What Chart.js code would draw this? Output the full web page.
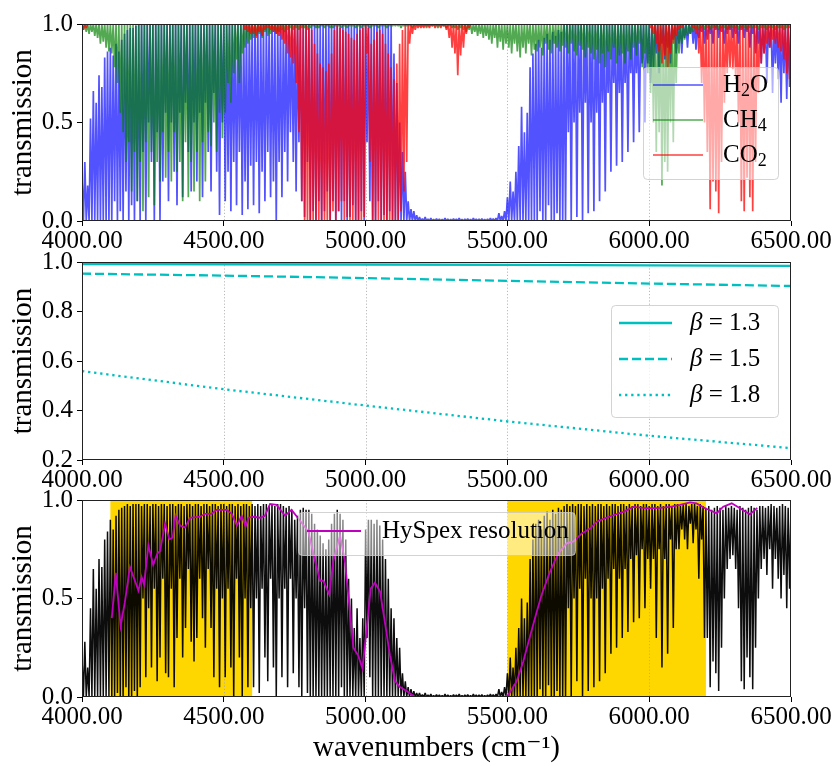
<!DOCTYPE html>
<html>
<head>
<meta charset="utf-8">
<title>Atmospheric transmission 4000-6500 cm-1</title>
<script src="https://cdn.jsdelivr.net/npm/chart.js@4.4.3/dist/chart.umd.min.js"></script>
<style>
  html, body { margin: 0; padding: 0; background: #fff; }
  #figure { position: relative; width: 833px; height: 766px; }
  #figure canvas { position: absolute; left: 0; top: 0; }
</style>
</head>
<body>
<div id="figure">
  <canvas id="gasChart" width="833" height="766"></canvas>
  <canvas id="betaChart" width="833" height="766"></canvas>
  <canvas id="totalChart" width="833" height="766"></canvas>
</div>
<script>
const FONT = '"Liberation Serif", "DejaVu Serif", serif';

// spectra are sampled every 10 cm-1; each sample keeps the max / min transmission in its bin
const wavenumbers = Array.from({ length: 251 }, (_, i) => 4000 + 10 * i);
const xTicks = [4000, 4500, 5000, 5500, 6000, 6500];
const transTicks = [0, 0.5, 1];
const betaTicks = [0.2, 0.4, 0.6, 0.8, 1];
const hyspexBands = [[4100, 4600], [5500, 6200]];

const h2oLo = [
  0, 0, 0, 0, 0, 0, 0, 0, 0, 0,                    // 4000
  0, .1, 0, .05, 0, .15, 0, .08, 0, .1,            // 4100
  0, .35, 0, .5, .3, 0, .45, 0, .2, .55,           // 4200
  .1, .5, .25, .08, .55, .12, .6, .35, .15, .5,    // 4300
  .2, .55, .12, .6, .35, .15, .65, .25, .03, .5,   // 4400
  .1, .25, .05, .3, .08, .35, .03, .2, .06, .28,   // 4500
  .08, .3, .04, .25, .1, .35, .12, .2, 0, .3,      // 4600
  .12, .35, .2, .45, .3, .15, .4, .1, .02, .3,     // 4700
  0, .05, 0, .1, 0, .05, .15, 0, .1, 0,            // 4800
  .05, 0, .1, 0, .02, .08, 0, 0, .05, 0,           // 4900
  .4, .1, 0, 0, .1, 0, .03, 0, .05, 0,             // 5000
  0, 0, 0, 0, 0, 0, 0, 0, 0, 0,                    // 5100
  0, 0, 0, 0, 0, 0, 0, 0, 0, 0,                    // 5200
  0, 0, 0, 0, 0, 0, 0, 0, 0, 0,                    // 5300
  0, 0, 0, 0, 0, 0, 0, 0, 0, 0,                    // 5400
  0, 0, 0, 0, 0, 0, 0, 0, 0, 0,                    // 5500
  0, .05, 0, 0, .08, 0, 0, .04, 0, 0,              // 5600
  0, .45, 0, .5, .02, .55, 0, .6, .04, .5,         // 5700
  .05, .55, .1, .6, .15, .65, .25, .7, .28, .65,   // 5800
  .3, .7, .35, .75, .4, .75, .45, .8, .5, .8,      // 5900
  .7, .78, .85, .75, .9, .82, .88, .8, .92, .85,   // 6000
  .9, .85, .93, .88, .95, .9, .87, .93, .96, .9,   // 6100
  .92, .95, .9, .97, .93, .96, .9, .95, .97, .93,  // 6200
  .95, .9, .97, .93, .96, .88, .95, .85, .9, .8,   // 6300
  .85, .7, .88, .65, .8, .72, .6, .75, .62, .68,   // 6400
  .7
];
const h2oHi = [
  .22, .3, .18, .52, .66, .6, .74, .68, .83, .86,
  .88, .84, .9, .86, .92, .95, .97, .98, .98, .99,
  1, 1, 1, 1, 1, 1, 1, 1, 1, 1,
  1, 1, 1, 1, 1, 1, 1, 1, 1, 1,
  1, 1, 1, 1, 1, 1, 1, 1, 1, 1,
  1, 1, 1, 1, 1, 1, 1, 1, 1, 1,
  1, 1, 1, 1, 1, 1, 1, 1, 1, 1,
  1, 1, 1, 1, 1, 1, 1, 1, 1, 1,
  1, 1, 1, 1, 1, 1, 1, 1, 1, 1,
  1, 1, 1, 1, 1, 1, 1, 1, 1, 1,
  1, 1, 1, 1, 1, 1, 1, 1, 1, 1,
  .85, .7, .5, .35, .25, .1, .06, .05, .03, .02,
  .012, .02, .01, .015, .008, .012, .01, .008, .015, .01,
  .008, .012, .01, .015, .008, .01, .012, .008, .015, .01,
  .01, .012, .008, .01, .015, .012, .015, .04, .025, .05,
  .12, .2, .15, .25, .38, .58, .45, .55, .78, .85,
  .9, .92, .88, .93, .95, .92, .96, .94, .97, .96,
  1, 1, 1, 1, 1, 1, 1, 1, 1, 1,
  1, 1, 1, 1, 1, 1, 1, 1, 1, 1,
  1, 1, 1, 1, 1, 1, 1, 1, 1, 1,
  1, 1, 1, 1, 1, 1, 1, 1, 1, 1,
  1, 1, 1, 1, 1, 1, 1, 1, 1, 1,
  1, 1, 1, 1, 1, 1, 1, 1, 1, 1,
  1, 1, 1, 1, 1, 1, 1, 1, 1, 1,
  1, 1, 1, 1, 1, 1, 1, 1, 1, 1,
  1
];

// CH4 lines always start from the continuum (1.0)
const ch4Lo = [
  .97, .96, .95, .96, .94, .93, .9, .91, .88, .86,  // 4000
  .85, .78, .7, .55, .45, .3, .4, .15, .35, .1,     // 4100
  .3, .05, .4, .12, .35, .08, .3, .2, .45, .22,     // 4200
  .35, .2, .45, .25, .3, .1, .4, .12, .3, .15,      // 4300
  .35, .1, .4, .2, .45, .38, .5, .35, .55, .42,     // 4400
  .55, .7, .6, .75, .82, .7, .85, .88, .9, .92,     // 4500
  .93, .94, .95, .93, .96, .94, .95, .96, .95, .96, // 4600
  .97, .96, .97, .98, .97, .98, .97, .98, .98, .97, // 4700
  .98, .99, .98, .98, .99, .98, .99, .98, .98, .99, // 4800
  .99, .98, .99, .98, .99, .99, .98, .99, .98, .99, // 4900
  .99, .98, .99, .99, .98, .99, .99, .98, .99, .99, // 5000
  .99, .99, .98, .99, .99, .99, .98, .99, .99, .99, // 5100
  .99, .98, .99, .99, .99, .98, .99, .99, .98, .99, // 5200
  .98, .98, .97, .98, .97, .96, .97, .95, .96, .94, // 5300
  .95, .93, .94, .92, .9, .93, .88, .91, .87, .9,   // 5400
  .88, .85, .9, .86, .83, .88, .85, .9, .84, .87,   // 5500
  .86, .88, .84, .9, .87, .85, .9, .88, .86, .89,   // 5600
  .88, .85, .9, .86, .84, .89, .87, .83, .88, .85,  // 5700
  .82, .87, .8, .85, .78, .86, .82, .88, .8, .84,   // 5800
  .85, .8, .86, .82, .88, .84, .9, .78, .85, .75,   // 5900
  .65, .5, .35, .45, .18, .3, .25, .5, .4, .7,      // 6000
  .85, .9, .92, .94, .95, .96, .97, .97, .98, .97,  // 6100
  .98, .97, .98, .98, .97, .98, .98, .97, .98, .98, // 6200
  .98, .97, .98, .98, .97, .98, .98, .98, .97, .98, // 6300
  .98, .97, .98, .98, .97, .98, .98, .97, .98, .98, // 6400
  .98
];

const co2Lo = [
  .97, .98, 1, 1, 1, 1, 1, 1, 1, 1,                 // 4000
  1, 1, 1, 1, 1, 1, 1, 1, 1, 1,                     // 4100
  1, 1, 1, 1, 1, 1, 1, 1, 1, 1,                     // 4200
  1, 1, 1, 1, 1, 1, 1, 1, 1, 1,                     // 4300
  1, 1, 1, 1, 1, 1, 1, 1, 1, 1,                     // 4400
  1, 1, 1, 1, 1, 1, 1, .97, .96, .95,               // 4500
  .95, .93, .96, .94, .97, .98, .97, .96, .95, .94, // 4600
  .92, .9, .85, .83, .8, .7, .45, .1, 0, 0,         // 4700
  0, 0, 0, 0, 0, 0, 0, 0, .05, 0,                   // 4800
  .05, .1, 0, .02, 0, 0, 0, 0, 0, .02,              // 4900
  .85, .3, 0, 0, 0, 0, 0, 0, 0, 0,                  // 5000
  0, 0, .05, .15, .3, .9, .95, .97, .98, .98,       // 5100
  .98, .99, .98, .99, .98, .99, .98, .99, .97, .93, // 5200
  .88, .85, .74, .84, .88, .95, .98, 1, 1, 1,       // 5300
  1, 1, 1, 1, 1, 1, 1, 1, 1, 1,                     // 5400
  1, 1, 1, 1, 1, 1, 1, 1, 1, 1,                     // 5500
  1, 1, 1, 1, 1, 1, 1, 1, 1, 1,                     // 5600
  1, 1, 1, 1, 1, 1, 1, 1, 1, 1,                     // 5700
  1, 1, 1, 1, 1, 1, 1, 1, 1, 1,                     // 5800
  1, 1, 1, 1, 1, 1, 1, 1, 1, 1,                     // 5900
  .98, .95, .9, .86, .8, .84, .78, .85, .9, .94,    // 6000
  .97, .98, 1, 1, 1, .98, .95, .85, .7, .5,         // 6100
  .35, .06, .2, .15, .04, .3, .6, .75, .78, .77,    // 6200
  .72, .5, .1, .05, .22, .12, .05, .3, .65, .8,     // 6300
  .85, .9, .88, .92, .9, .88, .86, .82, .75, .72,   // 6400
  .75
];
const co2Hi = [
  1, 1, 1, 1, 1, 1, 1, 1, 1, 1,
  1, 1, 1, 1, 1, 1, 1, 1, 1, 1,
  1, 1, 1, 1, 1, 1, 1, 1, 1, 1,
  1, 1, 1, 1, 1, 1, 1, 1, 1, 1,
  1, 1, 1, 1, 1, 1, 1, 1, 1, 1,
  1, 1, 1, 1, 1, 1, 1, 1, 1, 1,
  1, 1, 1, 1, 1, 1, 1, 1, 1, 1,
  1, 1, 1, 1, 1, 1, 1, 1, 1, 1,
  .98, .97, .9, .85, .8, .78, .76, .8, .85, .97,
  .99, .98, .97, .96, .95, .93, .92, .95, .97, .98,
  1, .98, .9, .92, .96, .97, .95, .9, .85, .78,
  .72, .8, .9, .97, 1, 1, 1, 1, 1, 1,
  1, 1, 1, 1, 1, 1, 1, 1, 1, 1,
  1, 1, 1, 1, 1, 1, 1, 1, 1, 1,
  1, 1, 1, 1, 1, 1, 1, 1, 1, 1,
  1, 1, 1, 1, 1, 1, 1, 1, 1, 1,
  1, 1, 1, 1, 1, 1, 1, 1, 1, 1,
  1, 1, 1, 1, 1, 1, 1, 1, 1, 1,
  1, 1, 1, 1, 1, 1, 1, 1, 1, 1,
  1, 1, 1, 1, 1, 1, 1, 1, 1, 1,
  1, 1, 1, 1, 1, 1, 1, 1, 1, 1,
  1, 1, 1, 1, 1, 1, 1, 1, 1, 1,
  1, 1, 1, 1, 1, 1, 1, 1, 1, 1,
  1, 1, 1, 1, 1, 1, 1, 1, 1, 1,
  1, 1, 1, 1, 1, 1, 1, 1, 1, 1,
  1
];

// combined transmission of all gases
const totalLo = [
  0, 0, 0, 0, 0, 0, 0, 0, 0, 0,                    // 4000
  0, 0, .02, 0, 0, .05, 0, 0, .03, 0,              // 4100
  .05, .5, .1, .45, .15, .55, .08, .2, .6, .12,    // 4200
  .1, .55, .05, .3, .6, .2, .35, .65, .28, .18,    // 4300
  .3, .6, .4, .25, .65, .35, .1, .55, .05, .5,     // 4400
  .1, .55, .15, 0, .6, .2, 0, .5, .05, .45,        // 4500
  .05, .5, .02, .55, .2, .08, .6, .15, 0, .5,      // 4600
  .1, .55, .05, .6, .12, .5, .05, 0, .45, .02,     // 4700
  0, 0, 0, 0, 0, 0, 0, 0, 0, 0,                    // 4800
  0, .05, 0, 0, 0, 0, 0, 0, 0, 0,                  // 4900
  .3, .1, 0, 0, 0, 0, 0, 0, 0, 0,                  // 5000
  0, 0, 0, 0, 0, 0, 0, 0, 0, 0,                    // 5100
  0, 0, 0, 0, 0, 0, 0, 0, 0, 0,                    // 5200
  0, 0, 0, 0, 0, 0, 0, 0, 0, 0,                    // 5300
  0, 0, 0, 0, 0, 0, 0, 0, 0, 0,                    // 5400
  0, 0, 0, 0, 0, 0, 0, 0, 0, 0,                    // 5500
  0, .04, 0, 0, .06, 0, 0, .03, 0, 0,              // 5600
  0, .45, 0, .5, .08, .55, 0, .6, .03, .5,         // 5700
  .05, .5, .08, .55, .12, .6, .22, .65, .25, .6,   // 5800
  .3, .65, .33, .7, .38, .72, .4, .75, .45, .7,    // 5900
  .55, .7, .3, .75, .15, .7, .22, .8, .35, .75,    // 6000
  .75, .85, .8, .75, .88, .78, .85, .6, .8, .3,    // 6100
  .3, .05, .18, .12, .03, .25, .5, .65, .7, .72,   // 6200
  .65, .45, .08, .04, .2, .1, .04, .25, .5, .65,   // 6300
  .7, .62, .75, .55, .7, .6, .5, .62, .45, .55,    // 6400
  .55
];
const totalHi = [
  .2, .28, .15, .45, .65, .55, .7, .66, .8, .84,
  .9, .85, .92, .95, .96, .97, .98, .97, .98, .98,
  .98, .97, .98, .98, .97, .98, .98, .97, .98, .98,
  .97, .98, .98, .97, .98, .98, .97, .98, .98, .97,
  .98, .98, .97, .98, .98, .97, .98, .98, .97, .98,
  .98, .97, .98, .98, .97, .98, .97, .98, .98, .97,
  .98, .97, .98, .97, .98, .98, .97, .98, .97, .98,
  .98, .97, .96, .97, .95, .9, .92, .95, .96, .95,
  .95, .93, .88, .85, .82, .78, .75, .8, .88, .93,
  .95, .93, .9, .8, .6, .5, .35, .45, .3, .4,
  .85, .9, .9, .88, .9, .87, .8, .7, .6, .45,
  .4, .3, .25, .12, .08, .05, .04, .03, .02, .02,
  .012, .02, .01, .015, .008, .012, .01, .008, .015, .01,
  .008, .012, .01, .015, .008, .01, .012, .008, .015, .01,
  .01, .012, .008, .01, .015, .012, .015, .04, .025, .05,
  .12, .2, .15, .25, .35, .5, .4, .48, .7, .8,
  .88, .9, .85, .92, .94, .9, .95, .93, .96, .95,
  .97, .98, .97, .98, .97, .98, .98, .97, .98, .97,
  .98, .97, .98, .98, .97, .98, .97, .98, .98, .97,
  .98, .98, .97, .98, .97, .98, .98, .97, .98, .98,
  .97, .98, .98, .97, .98, .97, .98, .98, .97, .98,
  .98, .97, .98, .98, .97, .98, .98, .97, .98, .97,
  .96, .97, .95, .96, .97, .96, .95, .97, .96, .97,
  .96, .95, .97, .96, .95, .96, .97, .96, .95, .97,
  .97, .96, .97, .98, .97, .96, .97, .98, .97, .96,
  .97
];

// spectrum degraded to the HySpex instrument resolution
const hyspexWn = [
  4105, 4119, 4136, 4151, 4169, 4199, 4210, 4219, 4234, 4251,
  4266, 4275, 4293, 4308, 4320, 4330, 4346, 4363, 4381, 4416,
  4434, 4457, 4475, 4510, 4528, 4546, 4563, 4577, 4587, 4604,
  4628, 4645, 4663, 4686, 4716, 4739, 4769, 4798, 4822, 4839,
  4851, 4872, 4886, 4910, 4927, 4945, 4957, 4974, 4989, 5004,
  5018, 5033, 5051, 5068, 5086, 5104, 5121, 5145, 5174, 5300,
  5486, 5503, 5533, 5556, 5580, 5603, 5621, 5650, 5680, 5709,
  5733, 5762, 5791, 5815, 5832, 5868, 5909, 5944, 5979, 6003,
  6038, 6073, 6109, 6144, 6167, 6197, 6220, 6238, 6261, 6291,
  6320, 6355, 6381
];
const hyspexT = [
  .40, .63, .36, .48, .66, .54, .61, .57, .77, .67,
  .73, .74, .88, .80, .81, .92, .87, .86, .91, .915,
  .93, .93, .95, .95, .93, .87, .92, .865, .91, .915,
  .91, .92, .98, .975, .92, .95, .895, .84, .69, .59,
  .59, .52, .69, .82, .69, .43, .25, .21, .145, .35,
  .55, .58, .535, .38, .21, .08, .05, .03, 0, 0,
  0, .01, .08, .18, .31, .43, .52, .635, .73, .78,
  .79, .83, .855, .89, .90, .92, .94, .965, .96, .958,
  .96, .965, .975, .988, .983, .958, .944, .932, .966, .983,
  .958, .927, .96
];

// aerosol transmission for three Angstrom exponents
const betaWn = [4000, 4500, 5000, 5500, 6000, 6500];
const beta13 = [.992, .991, .99, .988, .986, .984];
const beta15 = [.953, .945, .935, .924, .913, .903];
const beta18 = [.559, .486, .42, .356, .298, .248];

Chart.defaults.font.family = FONT;
Chart.defaults.color = '#000';

const SUBSCRIPTS = '₀₁₂₃₄₅₆₇₈₉';

// draws labels like "H₂O" or "β = 1.5" with real subscripts and an italic greek letter
function drawMathLabel(ctx, text, x, y, size) {
  ctx.textBaseline = 'middle';
  ctx.textAlign = 'left';
  ctx.fillStyle = '#000';
  let cx = x;
  for (const ch of text) {
    const sub = SUBSCRIPTS.indexOf(ch);
    let s = ch, dy = 0;
    let font = `${size}px ${FONT}`;
    if (sub >= 0) {
      s = String(sub);
      font = `${Math.round(size * 0.7)}px ${FONT}`;
      dy = size * 0.25;
    } else if (/[\u03b1-\u03c9]/.test(ch)) {
      font = `italic ${size}px ${FONT}`;
    }
    ctx.font = font;
    ctx.fillText(s, cx, y + dy);
    cx += ctx.measureText(s).width;
  }
}

// shaded bands + dotted vertical grid, under the data
function underlay(bands) {
  return {
    id: 'underlay',
    beforeDatasetsDraw(chart) {
      const { ctx, chartArea: a } = chart;
      const x = chart.scales.x;
      ctx.save();
      ctx.beginPath();
      ctx.rect(a.left, a.top, a.width, a.height);
      ctx.clip();
      ctx.fillStyle = '#FFD700';
      bands.forEach(([from, to]) => {
        const x0 = x.getPixelForValue(from);
        const x1 = x.getPixelForValue(to);
        ctx.fillRect(x0, a.top, x1 - x0, a.height);
      });
      ctx.strokeStyle = '#a8a8a8';
      ctx.lineWidth = 0.8;
      ctx.setLineDash([1.2, 2]);
      x.ticks.forEach(t => {
        if (t.value <= x.min || t.value >= x.max) return;
        const px = Math.round(x.getPixelForValue(t.value)) + 0.5;
        ctx.beginPath();
        ctx.moveTo(px, a.top);
        ctx.lineTo(px, a.bottom);
        ctx.stroke();
      });
      ctx.restore();
    }
  };
}

const frame = {
  id: 'frame',
  afterDatasetsDraw(chart) {
    const { ctx, chartArea: a } = chart;
    ctx.save();
    ctx.strokeStyle = '#222';
    ctx.lineWidth = 1;
    ctx.strokeRect(a.left + 0.5, a.top + 0.5, a.width - 1, a.height - 1);
    ctx.restore();
  }
};

function boxLegend(cfg) {
  return {
    id: 'boxLegend',
    afterDraw(chart) {
      const ctx = chart.ctx;
      const [bx, by, bw, bh] = cfg.box;
      ctx.save();
      ctx.beginPath();
      ctx.roundRect(bx + 0.5, by + 0.5, bw, bh, 4);
      ctx.fillStyle = `rgba(255,255,255,${cfg.alpha})`;
      ctx.fill();
      ctx.strokeStyle = 'rgba(200,200,200,0.8)';
      ctx.lineWidth = 1;
      ctx.stroke();
      chart.data.datasets.filter(d => d.label).forEach((d, i) => {
        const y = cfg.rows[i];
        ctx.strokeStyle = d.borderColor;
        ctx.lineWidth = d.legendWidth || d.borderWidth;
        ctx.setLineDash(d.borderDash || []);
        ctx.beginPath();
        ctx.moveTo(cfg.sample[0], y);
        ctx.lineTo(cfg.sample[1], y);
        ctx.stroke();
        ctx.setLineDash([]);
        drawMathLabel(ctx, d.label, cfg.textX, y, 25);
      });
      ctx.restore();
    }
  };
}

// one polyline per gas: every bin goes from its max down to its min
function spectrum(label, lo, hi, color, order, width) {
  const points = [];
  wavenumbers.forEach((w, i) => {
    points.push({ x: w, y: hi ? hi[i] : 1 });
    points.push({ x: w + 5, y: lo[i] });
  });
  return {
    type: 'line',
    label,
    order,
    data: points,
    borderColor: color,
    borderWidth: width,
    borderJoinStyle: 'bevel',
    pointRadius: 0,
    tension: 0,
    fill: false,
    legendWidth: 1.5
  };
}

function panelOptions(p) {
  return {
    responsive: false,
    devicePixelRatio: 1,
    animation: false,
    events: [],
    layout: { padding: { top: p.top, bottom: p.bottom, left: 0, right: 42 } },
    plugins: { legend: { display: false }, tooltip: { enabled: false } },
    scales: {
      x: {
        type: 'linear',
        min: 4000,
        max: 6500,
        offset: false,
        afterFit: s => { s.height = p.xHeight; },
        afterBuildTicks: s => { s.ticks = xTicks.map(v => ({ value: v })); },
        ticks: { autoSkip: false, maxRotation: 0, padding: 0, font: { size: 25 }, callback: v => v.toFixed(2) },
        grid: { offset: false, drawOnChartArea: false, tickLength: 5, tickColor: '#000', tickWidth: 1 },
        border: { display: false },
        title: p.xTitle
          ? { display: true, text: p.xTitle, font: { size: 29 }, padding: { top: 0, bottom: 0 } }
          : { display: false }
      },
      y: {
        type: 'linear',
        min: p.yMin,
        max: p.yMax,
        afterFit: s => { s.width = 82; },
        afterBuildTicks: s => { s.ticks = p.yTicks.map(v => ({ value: v })); },
        ticks: { autoSkip: false, padding: 4, font: { size: 25 }, callback: v => v.toFixed(1) },
        grid: { offset: false, drawOnChartArea: false, tickLength: 5, tickColor: '#000', tickWidth: 1 },
        border: { display: false },
        title: { display: true, text: 'transmission', font: { size: 29 }, padding: { top: 6, bottom: 0 } }
      }
    }
  };
}

// top: line-by-line transmission of each gas
new Chart(document.getElementById('gasChart'), {
  type: 'line',
  data: {
    datasets: [
      spectrum('H₂O', h2oLo, h2oHi, 'rgba(0,0,255,0.68)', 2, 1.7),
      spectrum('CH₄', ch4Lo, null, 'rgba(0,128,0,0.68)', 1, 1.7),
      spectrum('CO₂', co2Lo, co2Hi, 'rgba(255,0,0,0.75)', 0, 1.7)
    ]
  },
  options: panelOptions({ top: 24, bottom: 511, xHeight: 34, yMin: 0, yMax: 1, yTicks: transTicks }),
  plugins: [underlay([]), frame, boxLegend({ box: [643, 67, 135, 112], alpha: 0.55, sample: [653, 703], textX: 723, rows: [85, 120, 155] })]
});

// middle: aerosol transmission
const cyan = '#00BFBF';
const betaLine = (label, values, dash) => ({
  label,
  data: betaWn.map((w, i) => ({ x: w, y: values[i] })),
  borderColor: cyan,
  borderWidth: 2.3,
  borderDash: dash,
  pointRadius: 0,
  fill: false
});
new Chart(document.getElementById('betaChart'), {
  type: 'line',
  data: {
    datasets: [
      betaLine('β = 1.3', beta13, []),
      betaLine('β = 1.5', beta15, [9, 4]),
      betaLine('β = 1.8', beta18, [2.3, 3.8])
    ]
  },
  options: panelOptions({ top: 262, bottom: 266, xHeight: 40, yMin: 0.2, yMax: 1, yTicks: betaTicks }),
  plugins: [underlay([]), frame, boxLegend({ box: [611, 305, 167, 112], alpha: 0.8, sample: [619, 672], textX: 690, rows: [323, 359, 395] })]
});

// bottom: total transmission, HySpex bands and the degraded spectrum
new Chart(document.getElementById('totalChart'), {
  type: 'line',
  data: {
    datasets: [
      {
        label: 'HySpex resolution',
        order: 0,
        data: hyspexWn.map((w, i) => ({ x: w, y: hyspexT[i] })),
        borderColor: '#BF00BF',
        borderWidth: 1.8,
        pointRadius: 0,
        fill: false
      },
      spectrum('', totalLo, totalHi, 'rgba(0,0,0,0.95)', 1, 1.5)
    ]
  },
  options: panelOptions({ top: 500, bottom: 0, xHeight: 69, yMin: 0, yMax: 1, yTicks: transTicks, xTitle: 'wavenumbers (cm⁻¹)' }),
  plugins: [underlay(hyspexBands), frame, boxLegend({ box: [298, 512, 277, 43], alpha: 0.5, sample: [307, 361], textX: 382, rows: [531] })]
});
</script>
</body>
</html>
